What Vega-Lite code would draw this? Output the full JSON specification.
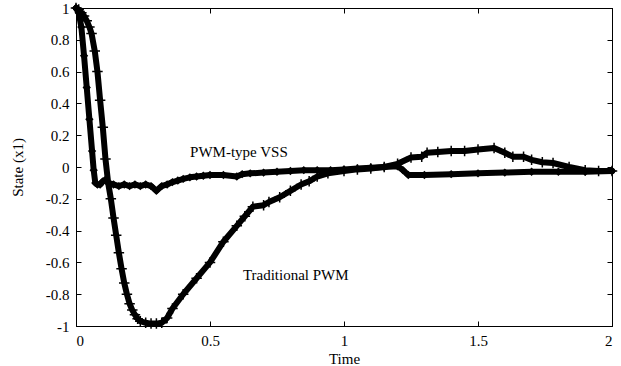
{
  "$schema": "https://vega.github.io/schema/vega-lite/v6.json",
  "width": 536,
  "height": 318,
  "autosize": {"type": "none"},
  "padding": {"left": 76, "top": 8, "right": 9, "bottom": 40},
  "background": "white",
  "config": {
    "view": {"stroke": "black", "strokeWidth": 1},
    "axis": {
      "grid": false,
      "domainColor": "black",
      "tickColor": "black",
      "labelColor": "black",
      "titleColor": "black",
      "labelFont": "Liberation Serif, Times New Roman, serif",
      "titleFont": "Liberation Serif, Times New Roman, serif",
      "labelFontSize": 15,
      "titleFontSize": 15,
      "titleFontWeight": "normal",
      "tickSize": -5
    }
  },
  "datasets": {
    "curves": [
      {"t": 0, "y": 1.0, "s": "PWM-type VSS"},
      {"t": 0.01, "y": 0.97, "s": "PWM-type VSS"},
      {"t": 0.02, "y": 0.88, "s": "PWM-type VSS"},
      {"t": 0.03, "y": 0.7, "s": "PWM-type VSS"},
      {"t": 0.04, "y": 0.5, "s": "PWM-type VSS"},
      {"t": 0.05, "y": 0.3, "s": "PWM-type VSS"},
      {"t": 0.06, "y": 0.1, "s": "PWM-type VSS"},
      {"t": 0.066, "y": -0.02, "s": "PWM-type VSS"},
      {"t": 0.072, "y": -0.1, "s": "PWM-type VSS"},
      {"t": 0.08, "y": -0.11, "s": "PWM-type VSS"},
      {"t": 0.09, "y": -0.11, "s": "PWM-type VSS"},
      {"t": 0.1, "y": -0.09, "s": "PWM-type VSS"},
      {"t": 0.11, "y": -0.08, "s": "PWM-type VSS"},
      {"t": 0.12, "y": -0.1, "s": "PWM-type VSS"},
      {"t": 0.14, "y": -0.11, "s": "PWM-type VSS"},
      {"t": 0.16, "y": -0.12, "s": "PWM-type VSS"},
      {"t": 0.18, "y": -0.11, "s": "PWM-type VSS"},
      {"t": 0.2, "y": -0.12, "s": "PWM-type VSS"},
      {"t": 0.22, "y": -0.11, "s": "PWM-type VSS"},
      {"t": 0.24, "y": -0.12, "s": "PWM-type VSS"},
      {"t": 0.26, "y": -0.11, "s": "PWM-type VSS"},
      {"t": 0.28, "y": -0.12, "s": "PWM-type VSS"},
      {"t": 0.3, "y": -0.15, "s": "PWM-type VSS"},
      {"t": 0.32, "y": -0.12, "s": "PWM-type VSS"},
      {"t": 0.34, "y": -0.11, "s": "PWM-type VSS"},
      {"t": 0.36, "y": -0.095, "s": "PWM-type VSS"},
      {"t": 0.38, "y": -0.085, "s": "PWM-type VSS"},
      {"t": 0.4, "y": -0.075, "s": "PWM-type VSS"},
      {"t": 0.425, "y": -0.065, "s": "PWM-type VSS"},
      {"t": 0.45, "y": -0.06, "s": "PWM-type VSS"},
      {"t": 0.475, "y": -0.055, "s": "PWM-type VSS"},
      {"t": 0.5, "y": -0.05, "s": "PWM-type VSS"},
      {"t": 0.55, "y": -0.05, "s": "PWM-type VSS"},
      {"t": 0.6, "y": -0.06, "s": "PWM-type VSS"},
      {"t": 0.62, "y": -0.045, "s": "PWM-type VSS"},
      {"t": 0.65, "y": -0.04, "s": "PWM-type VSS"},
      {"t": 0.7, "y": -0.035, "s": "PWM-type VSS"},
      {"t": 0.75, "y": -0.03, "s": "PWM-type VSS"},
      {"t": 0.8, "y": -0.025, "s": "PWM-type VSS"},
      {"t": 0.85, "y": -0.02, "s": "PWM-type VSS"},
      {"t": 0.9, "y": -0.02, "s": "PWM-type VSS"},
      {"t": 0.95, "y": -0.02, "s": "PWM-type VSS"},
      {"t": 1.0, "y": -0.015, "s": "PWM-type VSS"},
      {"t": 1.05, "y": -0.01, "s": "PWM-type VSS"},
      {"t": 1.1, "y": -0.005, "s": "PWM-type VSS"},
      {"t": 1.15, "y": 0.0, "s": "PWM-type VSS"},
      {"t": 1.2, "y": 0.005, "s": "PWM-type VSS"},
      {"t": 1.22, "y": -0.02, "s": "PWM-type VSS"},
      {"t": 1.24, "y": -0.05, "s": "PWM-type VSS"},
      {"t": 1.3, "y": -0.05, "s": "PWM-type VSS"},
      {"t": 1.4, "y": -0.045, "s": "PWM-type VSS"},
      {"t": 1.5, "y": -0.04, "s": "PWM-type VSS"},
      {"t": 1.6, "y": -0.035, "s": "PWM-type VSS"},
      {"t": 1.7, "y": -0.03, "s": "PWM-type VSS"},
      {"t": 1.8, "y": -0.03, "s": "PWM-type VSS"},
      {"t": 1.9, "y": -0.03, "s": "PWM-type VSS"},
      {"t": 2.0, "y": -0.025, "s": "PWM-type VSS"},
      {"t": 0, "y": 1.0, "s": "Traditional PWM"},
      {"t": 0.01, "y": 0.99, "s": "Traditional PWM"},
      {"t": 0.02, "y": 0.97, "s": "Traditional PWM"},
      {"t": 0.03, "y": 0.95, "s": "Traditional PWM"},
      {"t": 0.04, "y": 0.92, "s": "Traditional PWM"},
      {"t": 0.05, "y": 0.88, "s": "Traditional PWM"},
      {"t": 0.058, "y": 0.84, "s": "Traditional PWM"},
      {"t": 0.07, "y": 0.73, "s": "Traditional PWM"},
      {"t": 0.08, "y": 0.6, "s": "Traditional PWM"},
      {"t": 0.09, "y": 0.42, "s": "Traditional PWM"},
      {"t": 0.1, "y": 0.25, "s": "Traditional PWM"},
      {"t": 0.11, "y": 0.05, "s": "Traditional PWM"},
      {"t": 0.12, "y": -0.1, "s": "Traditional PWM"},
      {"t": 0.13, "y": -0.2, "s": "Traditional PWM"},
      {"t": 0.14, "y": -0.32, "s": "Traditional PWM"},
      {"t": 0.15, "y": -0.43, "s": "Traditional PWM"},
      {"t": 0.16, "y": -0.54, "s": "Traditional PWM"},
      {"t": 0.17, "y": -0.64, "s": "Traditional PWM"},
      {"t": 0.18, "y": -0.73, "s": "Traditional PWM"},
      {"t": 0.19, "y": -0.8, "s": "Traditional PWM"},
      {"t": 0.2, "y": -0.86, "s": "Traditional PWM"},
      {"t": 0.21, "y": -0.9, "s": "Traditional PWM"},
      {"t": 0.22, "y": -0.93, "s": "Traditional PWM"},
      {"t": 0.23, "y": -0.955, "s": "Traditional PWM"},
      {"t": 0.24, "y": -0.97, "s": "Traditional PWM"},
      {"t": 0.26, "y": -0.98, "s": "Traditional PWM"},
      {"t": 0.28, "y": -0.985, "s": "Traditional PWM"},
      {"t": 0.3, "y": -0.985, "s": "Traditional PWM"},
      {"t": 0.32, "y": -0.98, "s": "Traditional PWM"},
      {"t": 0.34, "y": -0.95, "s": "Traditional PWM"},
      {"t": 0.36, "y": -0.89, "s": "Traditional PWM"},
      {"t": 0.4, "y": -0.8, "s": "Traditional PWM"},
      {"t": 0.45, "y": -0.7, "s": "Traditional PWM"},
      {"t": 0.5, "y": -0.6, "s": "Traditional PWM"},
      {"t": 0.55, "y": -0.47, "s": "Traditional PWM"},
      {"t": 0.6, "y": -0.37, "s": "Traditional PWM"},
      {"t": 0.63, "y": -0.31, "s": "Traditional PWM"},
      {"t": 0.66, "y": -0.25, "s": "Traditional PWM"},
      {"t": 0.7, "y": -0.24, "s": "Traditional PWM"},
      {"t": 0.72, "y": -0.22, "s": "Traditional PWM"},
      {"t": 0.76, "y": -0.19, "s": "Traditional PWM"},
      {"t": 0.8, "y": -0.15, "s": "Traditional PWM"},
      {"t": 0.84, "y": -0.11, "s": "Traditional PWM"},
      {"t": 0.87, "y": -0.09, "s": "Traditional PWM"},
      {"t": 0.9, "y": -0.06, "s": "Traditional PWM"},
      {"t": 0.94, "y": -0.04, "s": "Traditional PWM"},
      {"t": 1.0, "y": -0.025, "s": "Traditional PWM"},
      {"t": 1.05, "y": -0.015, "s": "Traditional PWM"},
      {"t": 1.1, "y": -0.01, "s": "Traditional PWM"},
      {"t": 1.15, "y": 0.0, "s": "Traditional PWM"},
      {"t": 1.2, "y": 0.02, "s": "Traditional PWM"},
      {"t": 1.25, "y": 0.06, "s": "Traditional PWM"},
      {"t": 1.29, "y": 0.065, "s": "Traditional PWM"},
      {"t": 1.31, "y": 0.09, "s": "Traditional PWM"},
      {"t": 1.35, "y": 0.095, "s": "Traditional PWM"},
      {"t": 1.4, "y": 0.1, "s": "Traditional PWM"},
      {"t": 1.45, "y": 0.1, "s": "Traditional PWM"},
      {"t": 1.5, "y": 0.11, "s": "Traditional PWM"},
      {"t": 1.56, "y": 0.12, "s": "Traditional PWM"},
      {"t": 1.6, "y": 0.09, "s": "Traditional PWM"},
      {"t": 1.63, "y": 0.065, "s": "Traditional PWM"},
      {"t": 1.67, "y": 0.065, "s": "Traditional PWM"},
      {"t": 1.7, "y": 0.045, "s": "Traditional PWM"},
      {"t": 1.74, "y": 0.03, "s": "Traditional PWM"},
      {"t": 1.78, "y": 0.025, "s": "Traditional PWM"},
      {"t": 1.84, "y": 0.0, "s": "Traditional PWM"},
      {"t": 1.9, "y": -0.02, "s": "Traditional PWM"},
      {"t": 1.95, "y": -0.025, "s": "Traditional PWM"},
      {"t": 2.0, "y": -0.025, "s": "Traditional PWM"}
    ],
    "labels": [
      {"t": 0.608, "y": 0.094, "label": "PWM-type VSS"},
      {"t": 0.82, "y": -0.68, "label": "Traditional PWM"}
    ]
  },
  "layer": [
    {
      "data": {"name": "curves"},
      "mark": {"type": "line", "color": "black", "strokeWidth": 6, "strokeJoin": "round", "strokeCap": "round"},
      "encoding": {
        "x": {"field": "t", "type": "quantitative", "scale": {"domain": [0, 2], "nice": false},
          "axis": {"orient": "bottom", "values": [0, 0.5, 1, 1.5, 2], "labelExpr": "'' + datum.value", "title": "Time", "labelPadding": 12, "titlePadding": 3}},
        "y": {"field": "y", "type": "quantitative", "scale": {"domain": [-1, 1], "nice": false},
          "axis": {"orient": "left", "values": [-1, -0.8, -0.6, -0.4, -0.2, 0, 0.2, 0.4, 0.6, 0.8, 1], "labelExpr": "'' + datum.value", "title": "State (x1)", "labelPadding": 12, "titlePadding": 20}},
        "detail": {"field": "s", "type": "nominal"},
        "order": {"field": "t", "type": "quantitative"}
      }
    },
    {
      "data": {"name": "curves"},
      "transform": [{"filter": "datum.s == 'PWM-type VSS'"}],
      "mark": {"type": "point", "shape": "diamond", "filled": true, "color": "black", "size": 70, "opacity": 1},
      "encoding": {
        "x": {"field": "t", "type": "quantitative", "scale": {"domain": [0, 2], "nice": false},
          "axis": {"orient": "top", "values": [0, 0.5, 1, 1.5, 2], "labels": false, "title": null}},
        "y": {"field": "y", "type": "quantitative", "scale": {"domain": [-1, 1], "nice": false},
          "axis": {"orient": "right", "values": [-1, -0.8, -0.6, -0.4, -0.2, 0, 0.2, 0.4, 0.6, 0.8, 1], "labels": false, "title": null}}
      }
    },
    {
      "data": {"name": "curves"},
      "transform": [{"filter": "datum.s == 'Traditional PWM'"}],
      "mark": {"type": "point", "shape": "M-1,0H1M0,-1V1", "filled": false, "color": "black", "strokeWidth": 1.5, "size": 110, "opacity": 1},
      "encoding": {
        "x": {"field": "t", "type": "quantitative", "axis": null},
        "y": {"field": "y", "type": "quantitative", "axis": null}
      }
    },
    {
      "data": {"name": "labels"},
      "mark": {"type": "text", "font": "Liberation Serif, Times New Roman, serif", "fontSize": 15, "color": "black", "baseline": "middle", "align": "center"},
      "encoding": {
        "x": {"field": "t", "type": "quantitative", "axis": null},
        "y": {"field": "y", "type": "quantitative", "axis": null},
        "text": {"field": "label"}
      }
    }
  ],
  "resolve": {"axis": {"x": "independent", "y": "independent"}}
}
